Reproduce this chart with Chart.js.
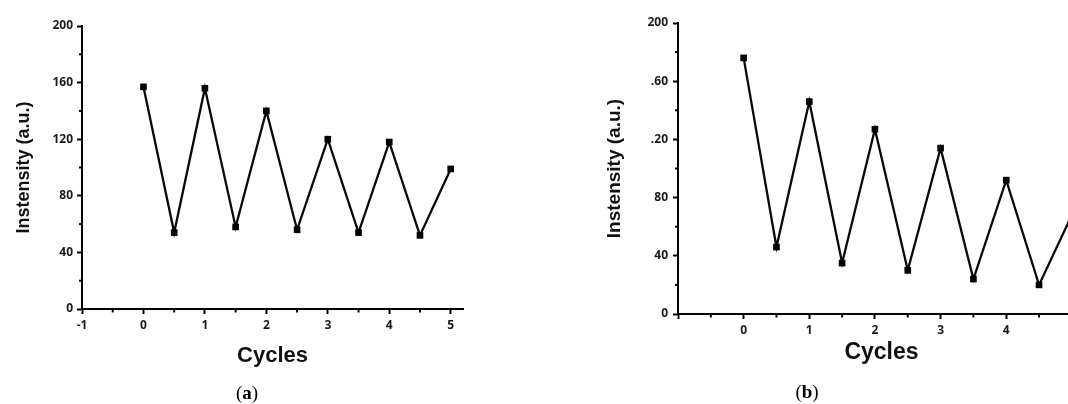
<!DOCTYPE html>
<html>
<head>
<meta charset="utf-8">
<script src="https://cdn.jsdelivr.net/npm/chart.js@4.4.1/dist/chart.umd.min.js"></script>
<style>
  html, body { margin: 0; padding: 0; background: #fff; }
  #wrap { position: relative; width: 1068px; height: 404px; overflow: hidden; background: #fff; }
  #ca { position: absolute; left: 0; top: 0; }
  #cb { position: absolute; left: 534px; top: 0; }
  .cap { position: absolute; font-family: "Liberation Serif", "DejaVu Serif", serif; font-size: 19px; color: #000; transform: translate(-50%, -50%); white-space: nowrap; }
</style>
</head>
<body>
<div id="wrap">
  <canvas id="ca" width="534" height="404"></canvas>
  <canvas id="cb" width="570" height="404"></canvas>
  <div class="cap" style="left:247px; top:393px;">(<b>a</b>)</div>
  <div class="cap" style="left:807px; top:392px;">(<b>b</b>)</div>
</div>
<script>
// ---- data ----
const cyclesA = [0, 0.5, 1, 1.5, 2, 2.5, 3, 3.5, 4, 4.5, 5];
const intensityA = [157, 54, 156, 58, 140, 56, 120, 54, 118, 52, 99];
const cyclesB = [0, 0.5, 1, 1.5, 2, 2.5, 3, 3.5, 4, 4.5, 5];
const intensityB = [176, 46, 146, 35, 127, 30, 114, 24, 92, 20, 68];
const yTickLabelsA = ["0", "40", "80", "120", "160", "200"];
const yTickLabelsB = ["0", "40", "80", ".20", ".60", "200"];
const xTickLabelsA = ["-1", "0", "1", "2", "3", "4", "5"];
const xTickLabelsB = ["", "0", "1", "2", "3", "4", "5"];
const yTitle = "Instensity (a.u.)";
const xTitle = "Cycles";

const minorTicks = {
  id: 'minorTicks',
  afterDraw(chart) {
    const ctx = chart.ctx;
    const xs = chart.scales.x, ys = chart.scales.y;
    ctx.save();
    ctx.strokeStyle = '#000';
    ctx.lineWidth = 2;
    const axisY = chart.chartArea.bottom;
    const axisX = chart.chartArea.left;
    for (let v = xs.min + 0.5; v < xs.max; v += 1) {
      const px = xs.getPixelForValue(v);
      ctx.beginPath(); ctx.moveTo(px, axisY); ctx.lineTo(px, axisY + 3.5); ctx.stroke();
    }
    for (let v = ys.min + 20; v < ys.max; v += 40) {
      const py = ys.getPixelForValue(v);
      ctx.beginPath(); ctx.moveTo(axisX, py); ctx.lineTo(axisX - 3, py); ctx.stroke();
    }
    ctx.restore();
  }
};

function makeChart(id, xs, ys, yLabels, xLabels, cfg) {
  const pts = xs.map((x, i) => ({ x: x, y: ys[i] }));
  return new Chart(document.getElementById(id), {
    type: 'scatter',
    data: {
      datasets: [{
        data: pts,
        showLine: true,
        borderColor: '#0a0a0a',
        borderWidth: 2.3,
        pointStyle: 'rect',
        pointRadius: 4.7,
        pointBackgroundColor: '#000',
        pointBorderColor: '#000',
        pointBorderWidth: 0,
        tension: 0,
        clip: false
      }]
    },
    options: {
      responsive: false,
      animation: false,
      events: [],
      layout: { padding: cfg.padding },
      plugins: { legend: { display: false }, tooltip: { enabled: false } },
      scales: {
        x: {
          type: 'linear',
          min: -1, max: 5.2,
          afterFit(s) { s.height = cfg.xHeight; },
          ticks: {
            stepSize: 1,
            includeBounds: false,
            autoSkip: false,
            maxRotation: 0,
            padding: 4,
            color: '#1a1a1a',
            font: { family: "'Open Sans', 'Liberation Sans', sans-serif", size: 12, weight: 'bold' },
            callback: (v, i) => xLabels[i]
          },
          grid: { drawOnChartArea: false, drawTicks: true, tickLength: 5, tickWidth: 2, tickColor: '#000' },
          border: { display: true, color: '#000', width: 2 },
          title: {
            display: true, text: xTitle, color: '#111',
            padding: { top: 0, bottom: 0 },
            font: { family: "'Liberation Sans', Arial, sans-serif", size: cfg.xTitleSize, weight: 'bold' }
          }
        },
        y: {
          type: 'linear',
          min: 0, max: 200,
          afterFit(s) { s.width = cfg.yWidth; },
          ticks: {
            stepSize: 40,
            includeBounds: false,
            autoSkip: false,
            padding: cfg.yTickPad,
            color: '#1a1a1a',
            font: { family: "'Open Sans', 'Liberation Sans', sans-serif", size: 12, weight: 'bold' },
            callback: (v, i) => yLabels[i]
          },
          grid: { drawOnChartArea: false, drawTicks: true, tickLength: 5, tickWidth: 2, tickColor: '#000' },
          border: { display: true, color: '#000', width: 2 },
          title: {
            display: true, text: yTitle, color: '#111',
            padding: { top: cfg.yTitlePad, bottom: 0 },
            font: { family: "'Liberation Sans', Arial, sans-serif", size: cfg.yTitleSize, weight: 'bold' }
          }
        }
      }
    },
    plugins: [minorTicks]
  });
}

makeChart('ca', cyclesA, intensityA, yTickLabelsA, xTickLabelsA, {
  padding: { left: 0, top: 26, right: 71, bottom: 35 },
  xHeight: 60, yWidth: 82, yTickPad: 4, yTitlePad: 13,
  xTitleSize: 22, yTitleSize: 18
});
makeChart('cb', cyclesB, intensityB, yTickLabelsB, xTickLabelsB, {
  padding: { left: 0, top: 23, right: 19, bottom: 38 },
  xHeight: 52, yWidth: 144, yTickPad: 5, yTitlePad: 69,
  xTitleSize: 23, yTitleSize: 19
});
</script>
</body>
</html>
